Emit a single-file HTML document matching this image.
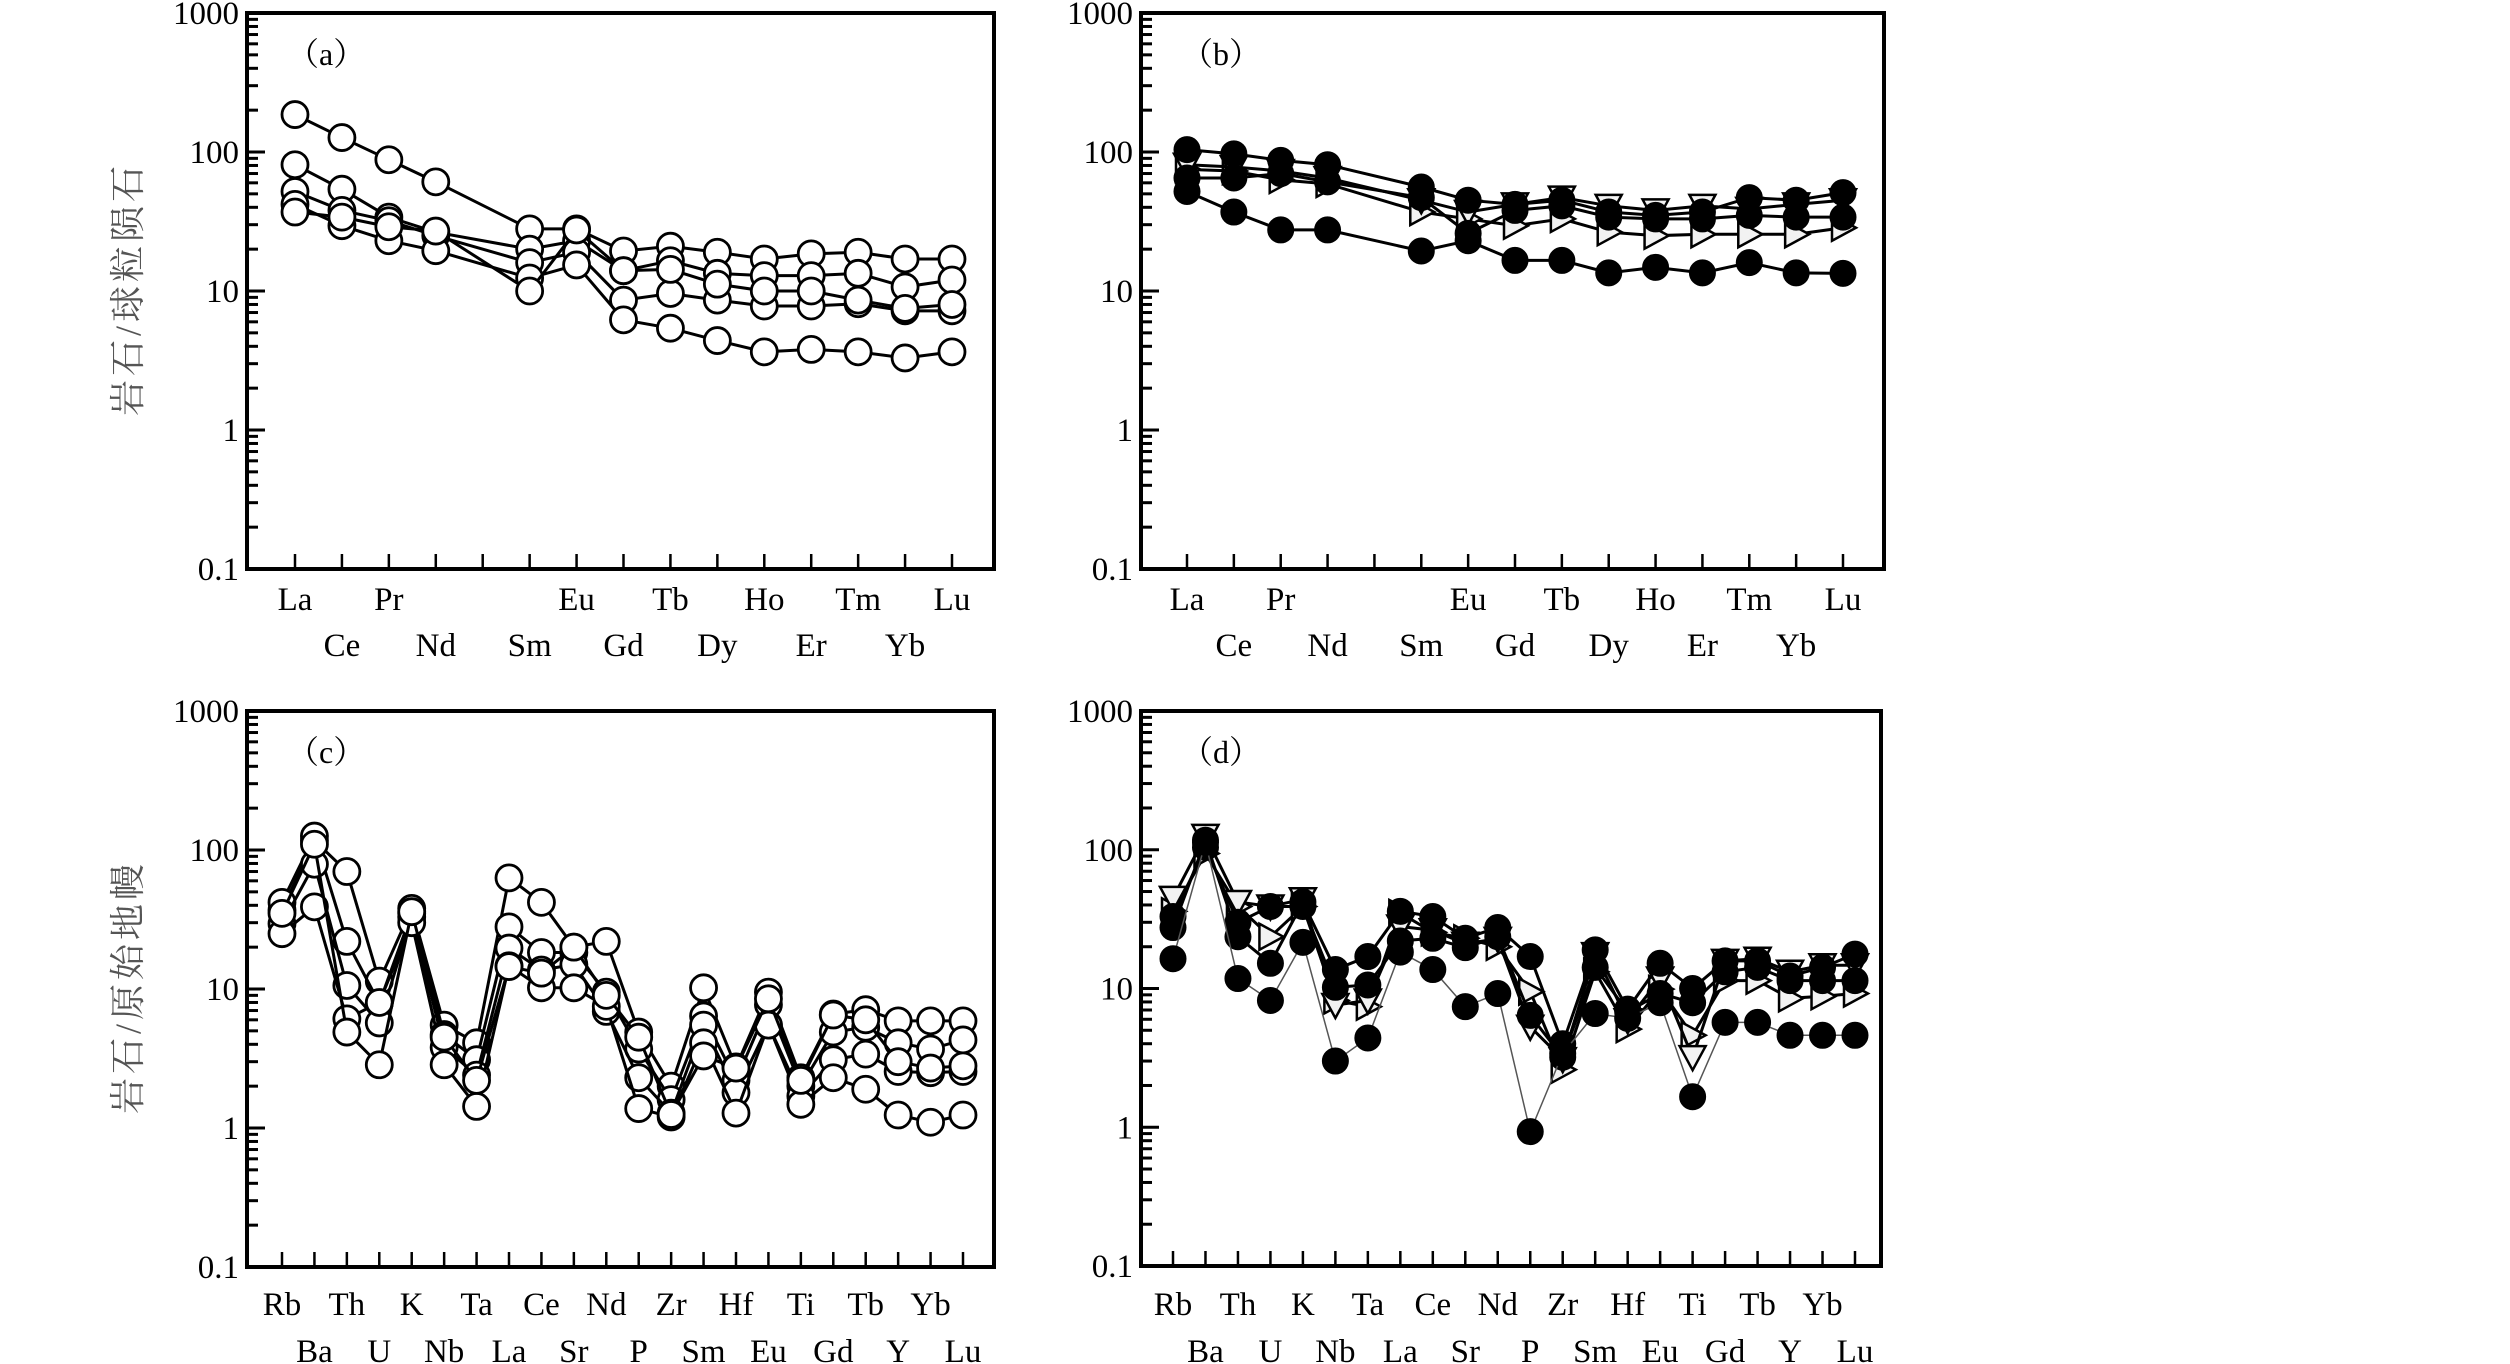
<!DOCTYPE html>
<html><head><meta charset="utf-8"><style>
html,body{margin:0;padding:0;background:#fff;}
svg{display:block;}
text{font-family:"Liberation Serif","Noto Serif CJK SC",serif;}
</style></head>
<body>
<svg id="fig" width="2510" height="1364" viewBox="0 0 2510 1364" xmlns="http://www.w3.org/2000/svg"></svg>
<script>
// ---------- data ----------
const reeCats = ['La','Ce','Pr','Nd','','Sm','Eu','Gd','Tb','Dy','Ho','Er','Tm','Yb','Lu'];
const spiderCats = ['Rb','Ba','Th','U','K','Nb','Ta','La','Ce','Sr','Nd','P','Zr','Sm','Hf','Eu','Ti','Gd','Tb','Y','Yb','Lu'];
const yTickLabels = ['0.1','1','10','100','1000'];

// panel a (open circles)
const a1 = [186,127,88,61,null,28,28,19.4,21,19,17,18.5,19,17,17];
const a2 = [81,54,34,26.5,null,20,23,14,16.5,13.4,12.9,12.9,13.4,10.7,12];
const a3 = [52,38,32,25,null,16,19,8.6,9.6,8.6,7.8,7.8,8.1,7.2,7.2];
const a4 = [42,29.5,23,19.5,null,12.4,15.4,6.2,5.4,4.4,3.65,3.8,3.65,3.3,3.65];
const a5 = [37,34,29,27,null,10,27.5,14,14.3,11.2,10,10,8.6,7.5,8];

// panel b
const b1 = [52,37,27.5,27.5,null,19.4,23,16.6,16.6,13.5,14.8,13.5,16,13.5,13.4];
const b2 = [104,97,87,81,null,56,45,42,45,37,35,37,47,45,51];
const b3 = [65,65,70,61,null,47,26,38,41,34,33,33,35,34,34];
const b4 = [81,78,73,65,null,45,37,42,47,41,38,41,39,42,45];
const b5 = [75,73,63,59,null,37,33,29.5,33,26.5,25,25.6,25.6,25.6,28.5];

// panel c (open circles)
const c1 = [37,117,70,11.4,38,5.5,4.1,63,42,20,22,4.9,2,10.2,2.75,9.5,2.3,6.6,7.1,5.9,5.9,5.9];
const c2 = [42,126,22,7.9,35,4.7,3.1,28,18.3,18.3,9.5,3.7,1.6,6.4,2.2,7.7,2.0,4.9,5.3,4.1,3.7,4.3];
const c3 = [29.5,79,10.6,5.7,33,3.8,2.4,19.7,13.7,15,6.9,2.3,1.28,5.5,1.8,5.5,1.7,3.1,3.4,2.55,2.5,2.55];
const c4 = [25,39,6.1,8,30,2.85,1.43,14.7,10.2,10.2,7.5,1.38,1.2,4.1,1.28,5.5,1.48,2.3,1.9,1.24,1.1,1.24];
const c5 = [35,110,4.9,2.85,36,4.5,2.2,14.5,13,20,9,4.5,1.25,3.3,2.7,8.5,2.2,6.5,6,3,2.7,2.8];

// panel d
const d1 = [16.4,113,11.8,8.2,21.5,3,4.4,18.3,13.7,7.4,9.2,0.93,3.4,6.6,6.1,7.9,1.66,5.7,5.7,4.6,4.6,4.6];
const d2 = [27.5,117,23.6,15.2,42,13.7,17,36,33,23,27.5,17,4,19,7.1,15.2,10,15.8,15.8,12.3,14.2,17.7];
const d3 = [33,104,30,39,39,10.2,10.6,22,23,19.7,23.6,6.4,3.2,14.2,6.8,9.2,7.9,13.2,14.2,11.4,11.4,11.4];
const d4 = [45,126,42,39,44,7.6,8.2,28,26.3,21,22.8,5.3,3.1,17.7,5.9,11.8,3.2,15.8,16.4,13.2,14.7,14.7];
const d5 = [36,94,39,23.6,39,8.2,7.4,35,25.4,23,20,9.5,2.6,13.2,5.1,9.9,4.6,11.4,11.4,8.5,8.8,9.2];

// ---------- drawing ----------
const NS='http://www.w3.org/2000/svg';
const svg=document.getElementById('fig');
function mk(tag,attrs,parent){const e=document.createElementNS(NS,tag);for(const k in attrs)e.setAttribute(k,attrs[k]);(parent||svg).appendChild(e);return e;}

function panel(cfg){
  const g=mk('g',{});
  
  
  const L=cfg.left,R=cfg.right,T=cfg.top,B=cfg.bottom;
  const dec=(B-T)/4;
  const y=v=>B-(Math.log10(v)+1)*dec;
  const n=cfg.cats.length;
  const x=i=>cfg.x0+i*(cfg.x1-cfg.x0)/(n-1);
  const fr=mk('rect',{x:L,y:T,width:R-L,height:B-T,fill:'none',stroke:'#000','stroke-width':4},g);
  
  
  for(let d=0;d<4;d++){
    for(let m=1;m<10;m++){
      const v=Math.pow(10,d-1)*m;
      const yy=y(v);
      mk('line',{x1:L,x2:L+(m===1?18:11),y1:yy,y2:yy,stroke:'#000','stroke-width':3},g);
    }
  }
  yTickLabels.forEach((t,i)=>{
    const tx=mk('text',{x:L-8,y:y(Math.pow(10,i-1))+11,'text-anchor':'end','font-size':33,fill:'#000'},g);
    tx.textContent=t;
    
    
  });
  cfg.cats.forEach((c,i)=>{
    mk('line',{x1:x(i),x2:x(i),y1:B,y2:B-15,stroke:'#000','stroke-width':2.5},g);
    if(!c)return;
    const row=cfg.rowOf(i);
    const tx=mk('text',{x:x(i),y:row===0?cfg.row1:cfg.row2,'text-anchor':'middle','font-size':33,fill:'#000'},g);
    tx.textContent=c;
    
    
  });
  const lt=mk('text',{x:L+40,y:T+52,'font-size':32,fill:'#000'},g);
  lt.textContent='（'+cfg.id+'）';
  
  
  if(cfg.title){
    const cy=(T+B)/2-2;
    const tt=mk('text',{x:0,y:0,transform:`translate(140,${cy}) rotate(-90)`,'text-anchor':'middle','font-size':36,fill:'#555','letter-spacing':4},g);
    tt.textContent=cfg.title;
    
    
  }
  cfg.series.forEach((s,si)=>{
    const sg=mk('g',{},g);
    
    
    let pts=[];
    s.data.forEach((v,i)=>{if(v!=null)pts.push([x(i),y(v)]);});
    mk('polyline',{points:pts.map(p=>p.join(',')).join(' '),fill:'none',stroke:s.thin?'#555':'#000','stroke-width':s.thin?1.5:3},sg);
    pts.forEach(p=>{
      let m;
      if(s.marker==='open')m=mk('circle',{cx:p[0],cy:p[1],r:13,fill:'#fff',stroke:'#000','stroke-width':2.8},sg);
      else if(s.marker==='filled')m=mk('circle',{cx:p[0],cy:p[1],r:13,fill:'#000',stroke:'#000','stroke-width':1},sg);
      else if(s.marker==='down')m=mk('polygon',{points:`${p[0]-13},${p[1]-11} ${p[0]+13},${p[1]-11} ${p[0]},${p[1]+13}`,fill:'#f2f2f2',stroke:'#000','stroke-width':2.5},sg);
      else m=mk('polygon',{points:`${p[0]-11},${p[1]-13} ${p[0]-11},${p[1]+13} ${p[0]+13},${p[1]}`,fill:'#f2f2f2',stroke:'#000','stroke-width':2.5},sg);
      
      
    });
  });
}

const reeRow=i=>(i%2===0?0:1);
const spRow=i=>(i%2===0?0:1);
panel({id:'a',left:247,right:994,top:13,bottom:569,x0:295,x1:952,cats:reeCats,rowOf:reeRow,row1:610,row2:656,title:'岩石/球粒陨石',
  series:[{data:a1,marker:'open'},{data:a2,marker:'open'},{data:a3,marker:'open'},{data:a4,marker:'open'},{data:a5,marker:'open'}]});
panel({id:'b',left:1141,right:1884,top:13,bottom:569,x0:1187,x1:1843,cats:reeCats,rowOf:reeRow,row1:610,row2:656,
  series:[{data:b5,marker:'right'},{data:b4,marker:'down'},{data:b3,marker:'filled'},{data:b2,marker:'filled'},{data:b1,marker:'filled'}]});
panel({id:'c',left:247,right:994,top:711,bottom:1267,x0:282,x1:963,cats:spiderCats,rowOf:spRow,row1:1315,row2:1362,title:'岩石/原始地幔',
  series:[{data:c1,marker:'open'},{data:c2,marker:'open'},{data:c3,marker:'open'},{data:c4,marker:'open'},{data:c5,marker:'open'}]});
panel({id:'d',left:1141,right:1881,top:711,bottom:1266,x0:1173,x1:1855,cats:spiderCats,rowOf:spRow,row1:1315,row2:1362,
  series:[{data:d5,marker:'right'},{data:d4,marker:'down'},{data:d3,marker:'filled'},{data:d2,marker:'filled'},{data:d1,marker:'filled',thin:true}]});
</script>
</body></html>
